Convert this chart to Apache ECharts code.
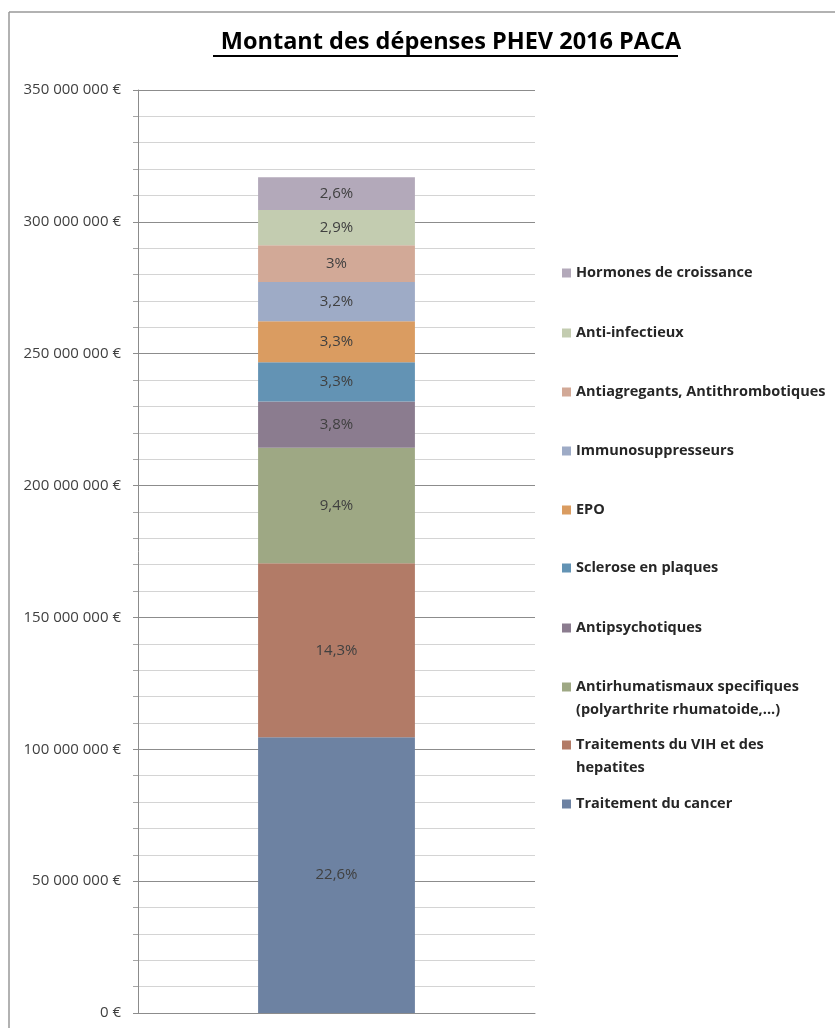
<!DOCTYPE html>
<html>
<head>
<meta charset="utf-8">
<script src="https://cdn.jsdelivr.net/npm/echarts@6/dist/echarts.min.js"></script>
<style>
  html, body { margin: 0; padding: 0; background: #fff; }
  #main { width: 835px; height: 1028px; }
</style>
</head>
<body>
<div id="main"></div>
<script>
// categories (bottom of stack first)
const seriesNames = [
  'Traitement du cancer',
  'Traitements du VIH et des hepatites',
  'Antirhumatismaux specifiques (polyarthrite rhumatoide,...)',
  'Antipsychotiques',
  'Sclerose en plaques',
  'EPO',
  'Immunosuppresseurs',
  'Antiagregants, Antithrombotiques',
  'Anti-infectieux',
  'Hormones de croissance'
]
// legend text as shown (wrapped lines)
const legendLabels = [
  ['Traitement du cancer'],
  ['Traitements du VIH et des', 'hepatites'],
  ['Antirhumatismaux specifiques', '(polyarthrite rhumatoide,...)'],
  ['Antipsychotiques'],
  ['Sclerose en plaques'],
  ['EPO'],
  ['Immunosuppresseurs'],
  ['Antiagregants, Antithrombotiques'],
  ['Anti-infectieux'],
  ['Hormones de croissance']
]
// montants en euros
const amounts = [104600000, 65900000, 43800000, 17600000, 14900000, 15500000, 14900000, 13900000, 13400000, 12400000]
// parts affichees
const shares = ['22,6%', '14,3%', '9,4%', '3,8%', '3,3%', '3,3%', '3,2%', '3%', '2,9%', '2,6%']
const colors = ['#6d82a2', '#b27b67', '#9ea884', '#8b7c8f', '#6393b4', '#da9c61', '#9eabc6', '#d2a997', '#c3ccb0', '#b3a9ba']
const xCategories = ['PACA 2016']

const yMin = 0, yMax = 350000000, yInterval = 50000000

// centre de la 1re ligne de chaque entree de legende (haut -> bas)
const legendRowY = [273, 333, 392, 451, 510, 568, 628, 687, 745, 804]

function formatEuro(v) {
  if (v === 0) return '0 €'
  return String(v).replace(/\B(?=(\d{3})+(?!\d))/g, ' ') + ' €'
}

const chart = echarts.init(document.getElementById('main'))

const legends = []
for (let k = 0; k < seriesNames.length; k++) {
  const i = seriesNames.length - 1 - k   // legend shows top of stack first
  const lines = legendLabels[i]
  const twoLines = lines.length > 1
  // blank first line so the icon sits on the first real line
  const txt = twoLines ? ' \n' + lines.join('\n') : lines[0]
  legends.push({
    data: [seriesNames[i]],
    orient: 'vertical',
    left: 562,
    top: twoLines ? legendRowY[k] - 34.5 : legendRowY[k] - 11.5,
    icon: 'rect',
    itemWidth: 9,
    itemHeight: 9,
    itemGap: 0,
    padding: 0,
    selectedMode: false,
    formatter: () => txt,
    textStyle: {
      fontFamily: 'Open Sans',
      fontWeight: 'bold',
      fontSize: 14.5,
      color: '#262626',
      lineHeight: 23
    }
  })
}

const series = seriesNames.map((name, i) => ({
  name: name,
  type: 'bar',
  stack: 'total',
  barWidth: '39.5%',
  data: [amounts[i]],
  itemStyle: { color: colors[i] },
  label: {
    show: true,
    position: 'inside',
    formatter: () => shares[i],
    fontFamily: 'Open Sans',
    fontSize: 15,
    color: '#404040'
  }
}))

chart.setOption({
  animation: false,
  backgroundColor: '#fff',
  title: {
    text: 'Montant des dépenses PHEV 2016 PACA',
    left: 446,
    top: 25,
    textAlign: 'center',
    textStyle: {
      fontFamily: 'Open Sans',
      fontWeight: 'bold',
      fontSize: 23.5,
      color: '#000'
    }
  },
  graphic: [
    // cadre
    { type: 'line', shape: { x1: 9, y1: 12, x2: 835, y2: 12 }, style: { stroke: '#999', lineWidth: 1.5 } },
    { type: 'line', shape: { x1: 9, y1: 12, x2: 9, y2: 1028 }, style: { stroke: '#999', lineWidth: 1.5 } },
    // soulignement du titre
    { type: 'line', shape: { x1: 213, y1: 56, x2: 678, y2: 56 }, style: { stroke: '#000', lineWidth: 2 } }
  ],
  legend: legends,
  grid: { left: 138, right: 300, top: 90, bottom: 15 },
  xAxis: {
    type: 'category',
    data: xCategories,
    axisLine: { show: true, lineStyle: { color: '#8c8c8c' } },
    axisTick: { show: false },
    axisLabel: { show: false }
  },
  yAxis: {
    type: 'value',
    min: yMin,
    max: yMax,
    interval: yInterval,
    minorTick: { show: true, splitNumber: 5, length: 5, lineStyle: { color: '#a6a6a6' } },
    minorSplitLine: { show: true, lineStyle: { color: '#d4d4d4', width: 1 } },
    splitLine: { show: true, lineStyle: { color: '#8c8c8c', width: 1 } },
    axisLine: { show: true, lineStyle: { color: '#8c8c8c' } },
    axisTick: { show: true, length: 5, lineStyle: { color: '#8c8c8c' } },
    axisLabel: {
      margin: 17,
      formatter: formatEuro,
      fontFamily: 'Open Sans',
      fontSize: 15,
      color: '#404040'
    }
  },
  series: series
})
</script>
</body>
</html>
